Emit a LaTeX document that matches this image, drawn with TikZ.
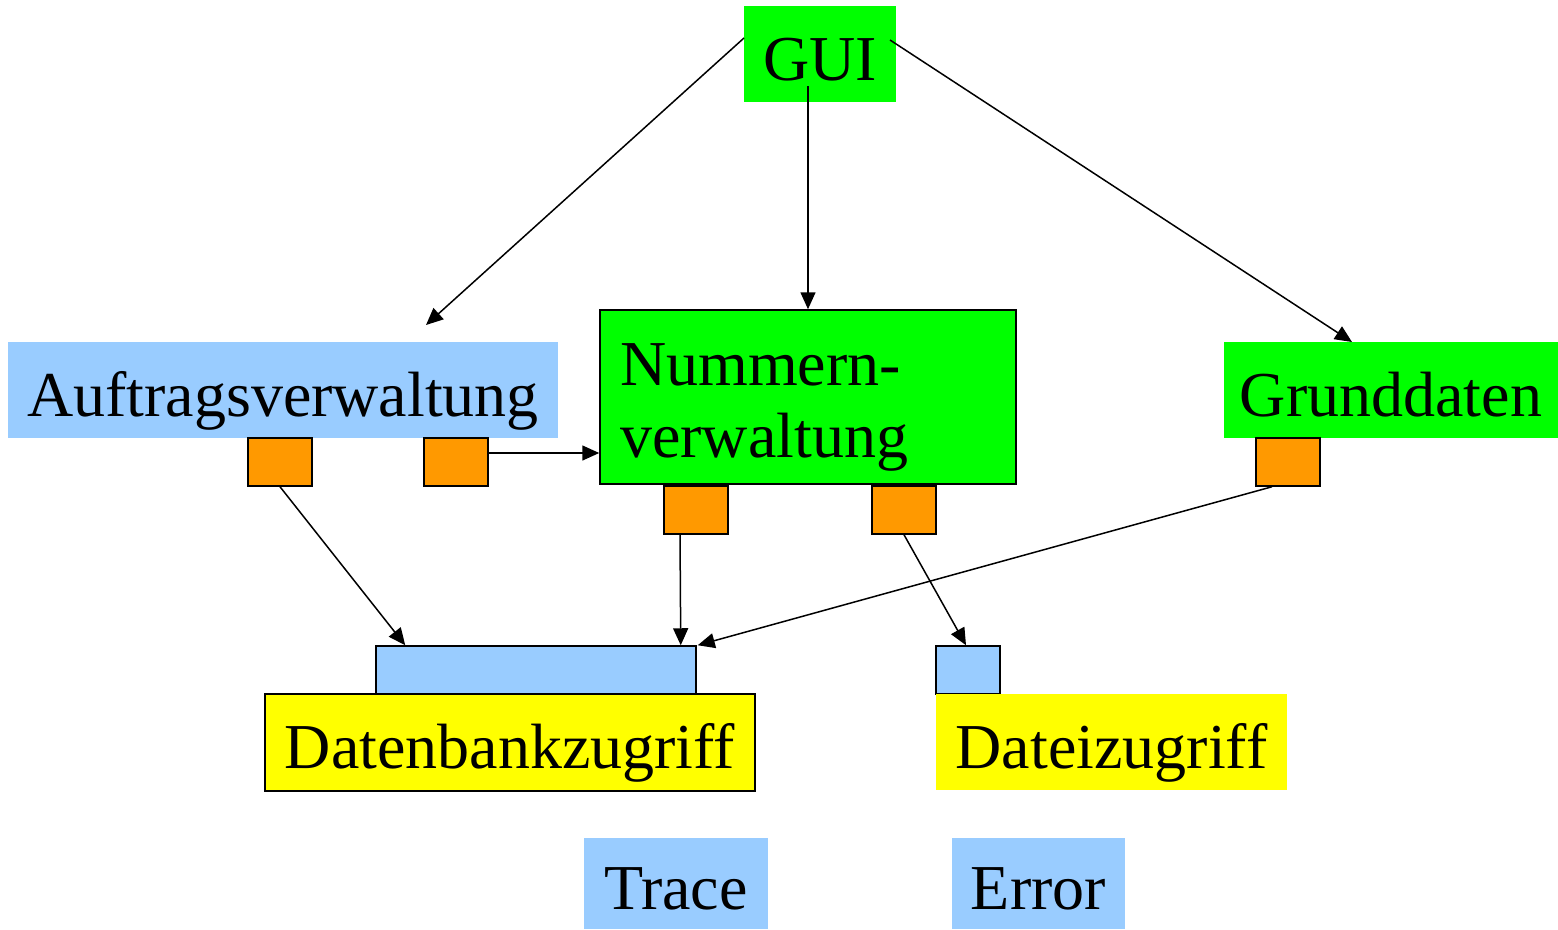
\documentclass[tikz,border=0pt]{standalone}
\usepackage{fontspec}
\setmainfont{Liberation Serif}
\usetikzlibrary{arrows.meta,calc}
\definecolor{cgreen}{RGB}{0,255,0}
\definecolor{cblue}{RGB}{153,204,255}
\definecolor{corange}{RGB}{255,153,0}
\definecolor{cyellow}{RGB}{255,255,0}
\begin{document}
\begin{tikzpicture}[x=1pt,y=-1pt,
  txt/.style={font=\fontsize{64}{64}\selectfont, inner sep=0pt, text height=57pt, text depth=5pt},
  box/.style={txt, minimum width=#1, anchor=center},
  pbox/.style={draw=black, line width=1.5pt, fill=corange, minimum width=64pt, minimum height=48pt, inner sep=0pt},
  bbox/.style={draw=black, line width=1.5pt, fill=cblue, minimum height=48pt, inner sep=0pt},
  conn/.style={line width=1.5pt, -{Triangle[length=17pt,width=15pt]}}]
\useasboundingbox (0,0) rectangle (1558,929);
% main boxes
\node[box=152pt, minimum height=96pt, fill=cgreen] (gui) at (820,54) {GUI};
\node[box=550pt, minimum height=96pt, fill=cblue] (auf) at (283,390) {Auftragsverwaltung};
\node[draw=black, line width=1.5pt, fill=cgreen, minimum width=416pt, minimum height=174pt, inner sep=0pt] (num) at (808,397) {};
\node[txt, anchor=base west] (num1) at (620,385) {Nummern-};
\node[txt, anchor=base west] (num2) at (620,457) {verwaltung};
\node[box=334pt, minimum height=96pt, fill=cgreen] (grd) at (1391,390) {Grunddaten};
% orange ports
\node[pbox] (o1) at (280,462) {};
\node[pbox] (o2) at (456,462) {};
\node[pbox] (o3) at (696,510) {};
\node[pbox] (o4) at (904,510) {};
\node[pbox] (o5) at (1288,462) {};
% lower boxes
\node[bbox, minimum width=320pt] (dbt) at (536,670) {};
\node[box=490pt, minimum height=97pt, fill=cyellow, draw=black, line width=1.5pt] (db) at (510,742.5) {Datenbankzugriff};
\node[bbox, minimum width=64pt] (dzt) at (968,670) {};
\node[box=351pt, minimum height=96pt, fill=cyellow] (dz) at (1111.5,742) {Dateizugriff};
\node[box=184pt, minimum height=91pt, fill=cblue] (tr) at (676,883.5) {Trace};
\node[box=173pt, minimum height=91pt, fill=cblue] (er) at (1038.5,883.5) {Error};
% connector end points
\coordinate (g1) at (744,38);
\coordinate (g2) at (808,86);
\coordinate (g3) at (890,40);
\coordinate (a1) at (426,325);
\coordinate (a3) at (1352,342);
\coordinate (p2) at (488,453);
% connectors
\draw[conn] (g1) -- (a1);
\draw[conn] (g2) -- (g2 |- num.north);
\draw[conn] (g3) -- (a3);
\draw[conn] (p2) -- (num.west |- p2);
\draw[conn] (o1.south) -- ($(dbt.north west)+(30,0)$);
\draw[conn] ($(o3.south)+(-16,0)$) -- ($(dbt.north east)+(-16,0)$);
\draw[conn] (o4.south) -- ($(dzt.north)+(-2,0)$);
\draw[conn] ($(o5.south)+(-16,0)$) -- ($(dbt.north east)+(1,0)$);
\end{tikzpicture}
\end{document}
